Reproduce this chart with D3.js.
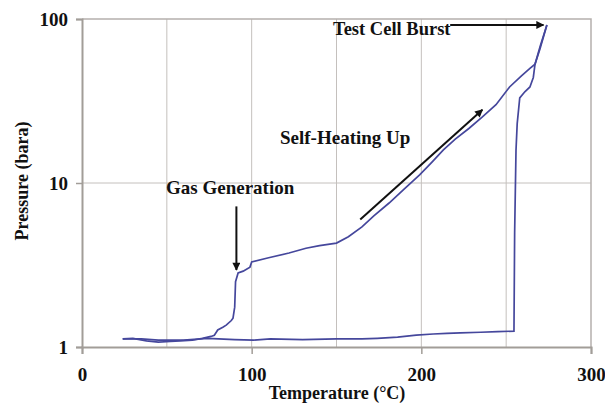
<!DOCTYPE html>
<html><head><meta charset="utf-8">
<script src="https://cdn.jsdelivr.net/npm/d3@7"></script>
<style>body{margin:0;background:#fff}svg{display:block}text{font-family:"Liberation Serif","Times New Roman",serif;font-weight:bold;fill:#111}</style>
</head><body><div id="chart"></div>
<script>
// Heating run (gas generation, self-heating, burst)
const tempA  = [24, 30, 38, 45, 52, 58, 65, 71, 76, 78, 80, 83, 85, 88, 89, 90, 90.5, 92, 95, 99, 100, 110, 122, 132, 140, 150, 157, 165, 172, 181, 190, 199, 206, 213, 220, 228, 236, 244, 252, 259, 264, 267, 270, 274];
const pressA = [1.12, 1.13, 1.09, 1.07, 1.08, 1.09, 1.10, 1.13, 1.16, 1.18, 1.27, 1.32, 1.36, 1.45, 1.5, 1.75, 2.5, 2.83, 2.9, 3.07, 3.3, 3.5, 3.74, 4.0, 4.15, 4.3, 4.7, 5.4, 6.3, 7.55, 9.2, 11.2, 13.3, 15.9, 18.5, 21.5, 25.3, 30, 38.5, 45, 50, 53, 68, 92];
// Baseline run (flat, then sudden rise)
const tempB  = [24, 35, 45, 60, 74, 90, 101, 111, 130, 150, 165, 174, 186, 197, 207, 215, 223, 235, 245, 254.6, 255, 255.8, 256.5, 258, 261, 264, 266, 267, 270, 274];
const pressB = [1.12, 1.12, 1.1, 1.1, 1.13, 1.11, 1.1, 1.12, 1.11, 1.12, 1.12, 1.13, 1.15, 1.18, 1.2, 1.21, 1.22, 1.23, 1.24, 1.25, 5, 15.9, 23, 33, 36, 38.5, 44, 53, 66, 92];
const xTicks = [0, 100, 200, 300];
const xGrid = [50, 100, 150, 200, 250];
const yTicks = [1, 10, 100];

const W = 605, H = 403;
const m = {left: 82, right: 14, top: 19, bottom: 56};
const svg = d3.select("#chart").append("svg").attr("width", W).attr("height", H);
const x = d3.scaleLinear().domain([0, 300]).range([m.left, W - m.right]);
const y = d3.scaleLog().domain([1, 100]).range([H - m.bottom, m.top]);

// gridlines
svg.append("g").selectAll("line").data(xGrid).join("line")
  .attr("x1", d => x(d)).attr("x2", d => x(d)).attr("y1", y(1)).attr("y2", y(100))
  .attr("stroke", "#c4c0bd").attr("stroke-width", 1);
svg.append("g").selectAll("line").data([10]).join("line")
  .attr("x1", x(0)).attr("x2", x(300)).attr("y1", d => y(d)).attr("y2", d => y(d))
  .attr("stroke", "#c4c0bd").attr("stroke-width", 1);
// frame top/right
svg.append("path").attr("d", `M${x(0)},${y(100)}H${x(300)}V${y(1)}`)
  .attr("fill", "none").attr("stroke", "#b5b0ad").attr("stroke-width", 1.5);

// axes
const xAxis = d3.axisBottom(x).tickValues(xTicks).tickSize(7).tickPadding(14).tickFormat(d3.format("d"));
const gx = svg.append("g").attr("transform", `translate(0,${y(1)})`).call(xAxis);
gx.select(".domain").attr("stroke", "#a29d98").attr("stroke-width", 2);
gx.selectAll(".tick line").attr("stroke", "#a29d98").attr("stroke-width", 1.5);

const yAxis = d3.axisLeft(y).tickValues(yTicks).tickSize(6).tickPadding(8).tickFormat(d3.format("d"));
const gy = svg.append("g").attr("transform", `translate(${x(0)},0)`).call(yAxis);
gy.select(".domain").attr("stroke", "#a29d98").attr("stroke-width", 2);
gy.selectAll(".tick line").attr("stroke", "#a29d98").attr("stroke-width", 1.5);
svg.selectAll(".tick text").attr("fill", "#111")
  .style("font-family", "'Liberation Serif', serif").style("font-weight", "bold").style("font-size", "19px");

// axis titles
svg.append("text").attr("x", 337).attr("y", 399).attr("text-anchor", "middle")
  .style("font-size", "18px").text("Temperature (°C)");
svg.append("text").attr("transform", `translate(28,${181}) rotate(-90)`).attr("text-anchor", "middle")
  .style("font-size", "18px").text("Pressure (bara)");

// data lines
const line = d3.line().x(d => x(d[0])).y(d => y(d[1]));
const dataA = tempA.map((t, i) => [t, pressA[i]]);
const dataB = tempB.map((t, i) => [t, pressB[i]]);
svg.append("path").datum(dataB).attr("d", line).attr("fill", "none").attr("stroke", "#45479c").attr("stroke-width", 1.7);
svg.append("path").datum(dataA).attr("d", line).attr("fill", "none").attr("stroke", "#45479c").attr("stroke-width", 1.7);

// arrow marker
svg.append("defs").append("marker").attr("id", "ah").attr("viewBox", "0 0 10 10")
  .attr("refX", 9).attr("refY", 5).attr("markerWidth", 10).attr("markerHeight", 8)
  .attr("markerUnits", "userSpaceOnUse").attr("orient", "auto")
  .append("path").attr("d", "M0,0L10,5L0,10z").attr("fill", "#111");

function arrow(t1, p1, t2, p2) {
  svg.append("line").attr("x1", x(t1)).attr("y1", y(p1)).attr("x2", x(t2)).attr("y2", y(p2))
    .attr("stroke", "#111").attr("stroke-width", 2).attr("marker-end", "url(#ah)");
}
// annotations
svg.append("text").attr("x", 333).attr("y", 35).style("font-size", "18.5px").text("Test Cell Burst");
arrow(217, 92, 272, 92);
svg.append("text").attr("x", 280).attr("y", 144).style("font-size", "19px").text("Self-Heating Up");
arrow(164, 6.0, 236, 28);
svg.append("text").attr("x", 166).attr("y", 194).style("font-size", "19px").text("Gas Generation");
arrow(91, 7.2, 91, 2.95);
</script></body></html>
